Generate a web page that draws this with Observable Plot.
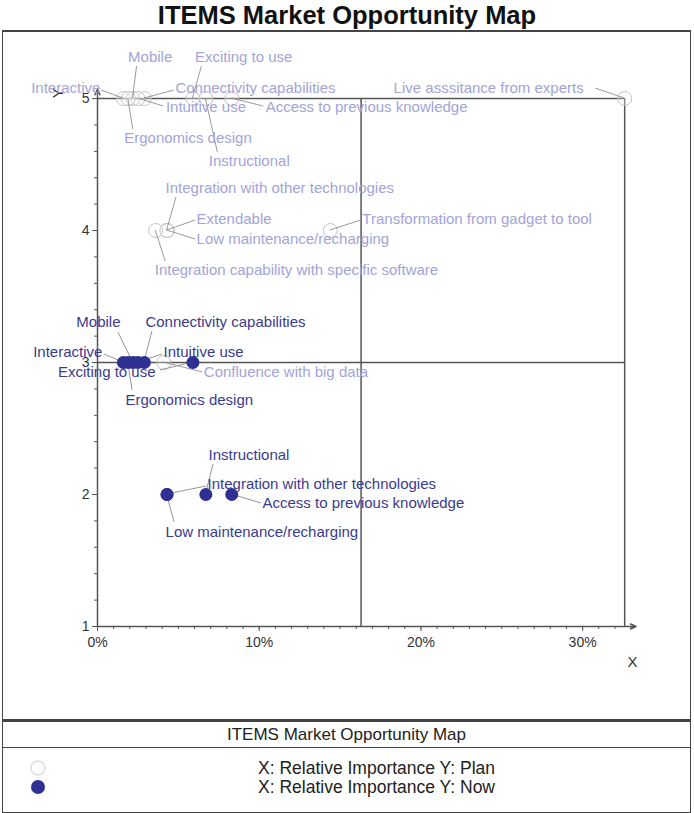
<!DOCTYPE html>
<html>
<head>
<meta charset="utf-8">
<script src="https://cdn.jsdelivr.net/npm/d3@7"></script>
<script src="https://cdn.jsdelivr.net/npm/@observablehq/plot@0.6"></script>
<style>
  html, body { margin: 0; padding: 0; background: #fff; }
  body { width: 694px; height: 813px; position: relative; overflow: hidden; font-family: "Liberation Sans", Arial, sans-serif; }
  #title { position: absolute; left: 0; top: 0; width: 694px; height: 30px; text-align: center; font-weight: bold; font-size: 25.5px; line-height: 30px; color: #111; }
  #frame { position: absolute; left: 2px; top: 30px; width: 687px; height: 687px; border: 1.5px solid #444; border-top-width: 2px; }
  #chart { position: absolute; left: 0; top: 30px; }
  #legend { position: absolute; left: 2px; top: 720px; width: 687px; height: 90px; border: 1.5px solid #444; border-top-width: 2px; }
  #legend .head { height: 25px; line-height: 25px; text-align: center; font-size: 17px; color: #222; border-bottom: 1.5px solid #444; }
  #legend .row { position: absolute; left: 0; width: 687px; height: 20px; font-size: 17.5px; color: #222; }
  #legend .row svg { position: absolute; left: 25px; top: 0; }
  #legend .row span { position: absolute; left: 255px; top: 0; line-height: 20px; }
</style>
</head>
<body>
<div id="title">ITEMS Market Opportunity Map</div>
<div id="frame"></div>
<div id="chart"></div>
<div id="legend">
  <div class="head">ITEMS Market Opportunity Map</div>
  <div class="row" style="top:36px"><svg width="20" height="20"><circle cx="10" cy="10" r="7" fill="#fff" stroke="#c8c8c8" stroke-width="1"/></svg><span id="lgPlan"></span></div>
  <div class="row" style="top:55px"><svg width="20" height="20"><circle cx="10" cy="10" r="7" fill="#2e3192"/></svg><span id="lgNow"></span></div>
</div>
<script>
// ---------------- data ----------------
const items = [
  "Interactive", "Mobile", "Exciting to use", "Connectivity capabilities", "Intuitive use",
  "Access to previous knowledge", "Ergonomics design", "Instructional", "Live asssitance from experts",
  "Integration with other technologies", "Extendable", "Low maintenance/recharging",
  "Transformation from gadget to tool", "Integration capability with specific software",
  "Confluence with big data"
];
// X: relative importance (%)
const relImportance = [1.6, 2.2, 5.9, 2.9, 2.5, 8.3, 1.9, 6.7, 32.6, 4.3, 4.3, 4.3, 14.4, 3.6, 4.1];
// Y: Plan score
const planScore = [5, 5, 5, 5, 5, 5, 5, 5, 5, 4, 4, 4, 4, 4, 3];
// Y: Now score (null = not present now)
const nowScore = [3, 3, 3, 3, 3, 2, 3, 2, null, 2, null, 2, null, null, null];

const xTickValues = [0, 10, 20, 30];
const yTickValues = [1, 2, 3, 4, 5];
const seriesNames = ["X: Relative Importance Y: Plan", "X: Relative Importance Y: Now"];
const chartTitle = "ITEMS Market Opportunity Map";

// ---------------- label placement (pixel offsets from each point) ----------------
// [dx, dy, textAnchor, leaderDx, leaderDy]
const planLabelPlacement = [
  [-23, -10, "end", -22, -8],
  [-5, -41, "start", 4, -32],
  [2, -41, "start", 9, -32],
  [31, -10, "start", 30, -8],
  [28, 9, "start", 26, 8],
  [34, 9, "start", 32, 8],
  [-4, 40, "start", 5, 31],
  [3, 63, "start", 12, 54],
  [-41, -10, "end", -29, -10],
  [-1.5, -42, "start", 9.5, -33],
  [29.5, -11, "start", 28.5, -10],
  [29.5, 9, "start", 28.5, 9],
  [32, -11, "start", 31, -10],
  [-1, 40, "start", 10, 31],
  [40, 10, "start", 39, 10]
];
const nowLabelPlacement = [
  [-21, -10, "end", -19, -8],
  [-12.6, -40, "end", -14.6, -30],
  [-37.4, 10, "end", -32.4, 8],
  [1, -40, "start", 8, -31],
  [25.6, -10, "start", 24.6, -8],
  [30.8, 9, "start", 29.8, 9],
  [-2.7, 38, "start", 4.3, 28],
  [2.7, -39, "start", 7.7, -30],
  null,
  [40.5, -10, "start", 39.5, -8],
  null,
  [-1.5, 38, "start", 7.5, 28],
  null, null, null
];

document.getElementById("title").textContent = chartTitle;
document.getElementById("lgPlan").textContent = seriesNames[0];
document.getElementById("lgNow").textContent = seriesNames[1];

// ---------------- build tables ----------------
const planData = items.map((name, i) => ({name, x: relImportance[i], y: planScore[i], p: planLabelPlacement[i]}));
const nowData = items.map((name, i) => ({name, x: relImportance[i], y: nowScore[i], p: nowLabelPlacement[i]}))
  .filter(d => d.y != null);

const xMax = d3.max(relImportance);
const xMid = xMax / 2;
const yMin = d3.min(yTickValues), yMax = d3.max(yTickValues);
const yMid = (yMin + yMax) / 2;

const planColor = "#a3a3d8";
const nowColor = "#2e3192";
const nowText = "#3b3b8e";
const axisColor = "#555";

function leaders(data, stroke, width) {
  return (index, scales) => {
    const g = d3.create("svg:g").attr("stroke", stroke).attr("stroke-width", width).attr("fill", "none");
    for (const d of data) {
      if (!d.p) continue;
      const px = scales.x(d.x), py = scales.y(d.y);
      g.append("line").attr("x1", px).attr("y1", py).attr("x2", px + d.p[3]).attr("y2", py + d.p[4]);
    }
    return g.node();
  };
}

function labelMarks(data, fill) {
  return data.filter(d => d.p).map(d => Plot.text([d], {
    x: "x", y: "y", text: "name", dx: d.p[0], dy: d.p[1], textAnchor: d.p[2],
    fill, fontSize: 15, lineAnchor: "middle"
  }));
}

const chart = Plot.plot({
  width: 694,
  height: 690,
  marginLeft: 97,
  marginRight: 58.5,
  marginTop: 58.8,
  marginBottom: 94,
  x: {domain: [0, 33.3], axis: null},
  y: {domain: [1, 5.07], axis: null},
  style: {fontFamily: "'Liberation Sans', Arial, sans-serif", fontSize: "14px", background: "transparent", overflow: "visible"},
  marks: [
    // quadrant box
    Plot.ruleX([xMid, xMax], {y1: yMin, y2: yMax, stroke: axisColor, strokeWidth: 1.5}),
    Plot.ruleY([yMid, yMax], {x1: 0, x2: xMax, stroke: axisColor, strokeWidth: 1.5}),
    // axes lines with arrows
    Plot.arrow([0], {x1: 0, y1: yMin, x2: 33.3, y2: yMin, stroke: axisColor, strokeWidth: 1.5, headLength: 6, headAngle: 50}),
    Plot.arrow([0], {x1: 0, y1: yMin, x2: 0, y2: 5.07, stroke: axisColor, strokeWidth: 1.5, headLength: 6, headAngle: 50}),
    // ticks
    Plot.axisX({ticks: d3.range(0, 34), tickSize: 3, tickFormat: () => "", label: null, stroke: axisColor}),
    Plot.axisX({ticks: xTickValues, tickSize: 5, tickPadding: 6, tickFormat: d => d + "%", label: null, stroke: axisColor, fill: "#333", fontSize: 14}),
    Plot.axisY({ticks: d3.range(10, 51, 2).map(d => d / 10), tickSize: 3, tickFormat: () => "", label: null, stroke: axisColor}),
    Plot.axisY({ticks: yTickValues, tickSize: 5, tickPadding: 3, tickFormat: d3.format("d"), label: null, stroke: axisColor, fill: "#333", fontSize: 14}),
    // axis titles
    Plot.text(["X"], {frameAnchor: "bottom-right", dx: -3.5, dy: 40, fontSize: 15, fill: "#333", textAnchor: "middle"}),
    Plot.text(["Y"], {frameAnchor: "top-left", dx: -45, dy: 4, fontSize: 15, fill: "#333", rotate: -90, textAnchor: "middle"}),
    // Plan series
    Plot.dot(planData, {x: "x", y: "y", r: 7, fill: "white", fillOpacity: 0.3, stroke: "#c4c4c4", strokeWidth: 1}),
    leaders(planData, "#808080", 0.8),
    ...labelMarks(planData, planColor),
    // Now series
    leaders(nowData, "#8a8a8a", 0.9),
    Plot.dot(nowData, {x: "x", y: "y", r: 6.5, fill: nowColor}),
    ...labelMarks(nowData, nowText)
  ]
});
document.getElementById("chart").appendChild(chart);
</script>
</body>
</html>
